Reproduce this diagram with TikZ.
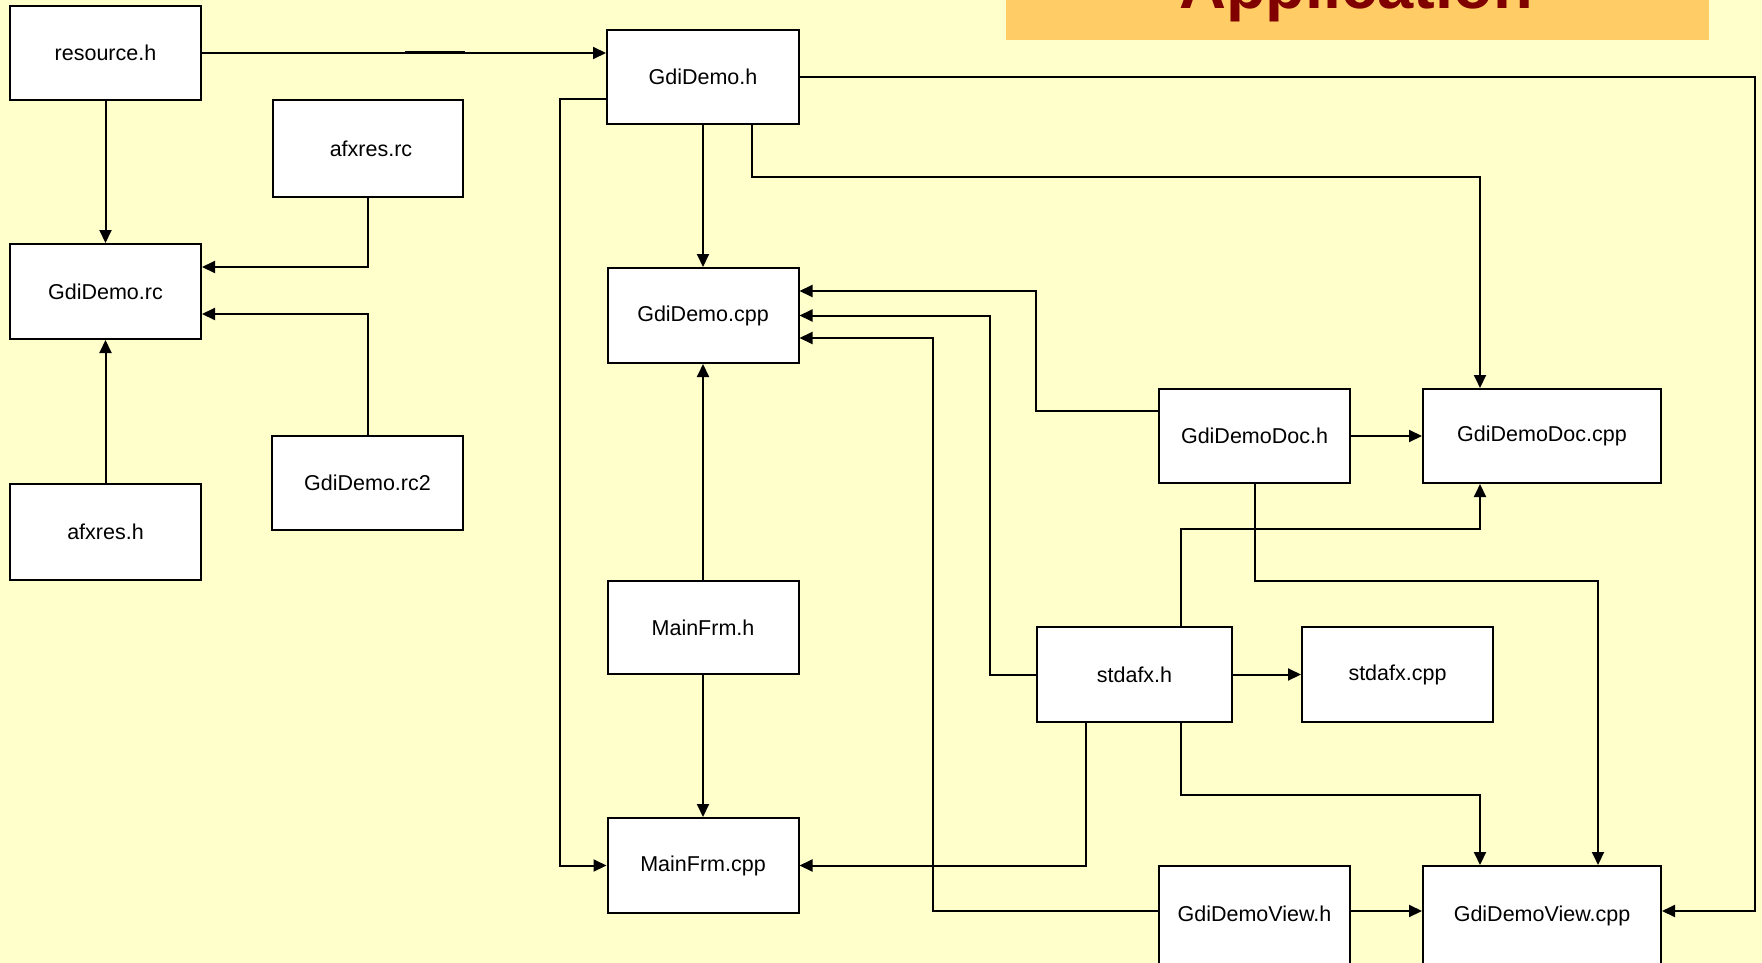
\documentclass[tikz,border=0pt]{standalone}
\usepackage{fontspec}
\setmainfont{Liberation Sans}
\usetikzlibrary{arrows.meta,calc}
\definecolor{bgyellow}{HTML}{FFFFCC}
\definecolor{bannerorange}{HTML}{FFCC66}
\definecolor{titlered}{HTML}{800000}
\begin{document}
\begin{tikzpicture}[x=1pt,y=-1pt,
  filebox/.style={draw=black,fill=white,line width=2pt,inner sep=0pt,font=\fontsize{21.5}{26}\selectfont},
  conn/.style={line width=2pt,-{Triangle[length=13pt,width=12pt]}}]
\useasboundingbox (0,0) rectangle (1762,963);
\fill[bgyellow] (0,0) rectangle (1762,963);
\clip (0,0) rectangle (1762,963);
% title banner
\fill[bannerorange] (1006,-20) rectangle (1709,40.5);
\node[anchor=base,inner sep=0pt,font=\fontsize{65}{70}\selectfont\bfseries,text=titlered] (title) at (1356,9) {Application};
% boxes
\node[filebox,minimum width=191pt,minimum height=94pt] (rh) at (105.5,53) {resource.h};
\node[filebox,minimum width=190pt,minimum height=96pt] (axrc) at (368,148.5) {\hspace*{6pt}afxres.rc};
\node[filebox,minimum width=191pt,minimum height=95pt] (rc) at (105.5,291.5) {GdiDemo.rc};
\node[filebox,minimum width=191pt,minimum height=94pt] (rc2) at (367.5,483) {GdiDemo.rc2};
\node[filebox,minimum width=191pt,minimum height=96pt] (axh) at (105.5,532) {afxres.h};
\node[filebox,minimum width=192pt,minimum height=94pt] (gh) at (703,77) {GdiDemo.h};
\node[filebox,minimum width=191pt,minimum height=95pt] (gcpp) at (703,315.5) {GdiDemo.cpp};
\node[filebox,minimum width=191pt,minimum height=93pt] (mfh) at (703,627.5) {MainFrm.h};
\node[filebox,minimum width=191pt,minimum height=95pt] (mfcpp) at (703,865.5) {MainFrm.cpp};
\node[filebox,minimum width=191pt,minimum height=94pt] (ddh) at (1254.5,436) {GdiDemoDoc.h};
\node[filebox,minimum width=238pt,minimum height=94pt] (ddcpp) at (1542,436) {GdiDemoDoc.cpp};
\node[filebox,minimum width=195pt,minimum height=95pt] (sh) at (1134.5,674.5) {stdafx.h};
\node[filebox,minimum width=191pt,minimum height=95pt] (scpp) at (1397.5,674.5) {stdafx.cpp};
\node[filebox,minimum width=191pt,minimum height=100pt,text depth=0pt] (dvh) at (1254.5,916) {\raisebox{5pt}{GdiDemoView.h}};
\node[filebox,minimum width=238pt,minimum height=100pt,text depth=0pt] (dvcpp) at (1542,916) {\raisebox{5pt}{GdiDemoView.cpp}};
% connectors
\draw[conn] (rh.east) -- (rh.east -| gh.west);
\draw[line width=3pt] ($(rh.east)+(203,0)$) -- ++(60,0);
\draw[conn] (rh.south) -- (rc.north);
\draw[conn] (axrc.south) |- ($(rc.north east)+(0,24)$);
\draw[conn] (rc2.north) |- ($(rc.north east)+(0,71)$);
\draw[conn] (axh.north) -- (rc.south);
\draw[conn] ($(gh.north west)+(0,70)$) -- ++(-46,0) |- (mfcpp.west);
\draw[conn] (gh.south) -- (gcpp.north);
\draw[conn] ($(gh.south)+(49,0)$) -- ++(0,52) -| ($(ddcpp.north west)+(58,0)$);
\draw[conn] (gh.east) -- ++(955,0) |- ($(dvcpp.north east)+(0,46)$);
\draw[conn] ($(ddh.north west)+(0,23)$) -- ++(-122,0) |- ($(gcpp.north east)+(0,24)$);
\draw[conn] (sh.west) -- ++(-46,0) |- (gcpp.east);
\draw[conn] ($(dvh.north west)+(0,46)$) -- ++(-225,0) |- ($(gcpp.north east)+(0,71)$);
\draw[conn] (mfh.north) -- (gcpp.south);
\draw[conn] (mfh.south) -- (mfcpp.north);
\draw[conn] (ddh.east) -- (ddh.east -| ddcpp.west);
\draw[conn] (ddh.south) -- ++(0,97) -| ($(dvcpp.north west)+(176,0)$);
\draw[conn] ($(sh.north west)+(145,0)$) -- ++(0,-97) -| ($(ddcpp.south west)+(58,0)$);
\draw[conn] (sh.east) -- (sh.east -| scpp.west);
\draw[conn] ($(sh.south west)+(50,0)$) |- (mfcpp.east);
\draw[conn] ($(sh.south west)+(145,0)$) -- ++(0,72) -| ($(dvcpp.north west)+(58,0)$);
\draw[conn] ($(dvh.north east)+(0,46)$) -- ($(dvcpp.north west)+(0,46)$);
\end{tikzpicture}
\end{document}
